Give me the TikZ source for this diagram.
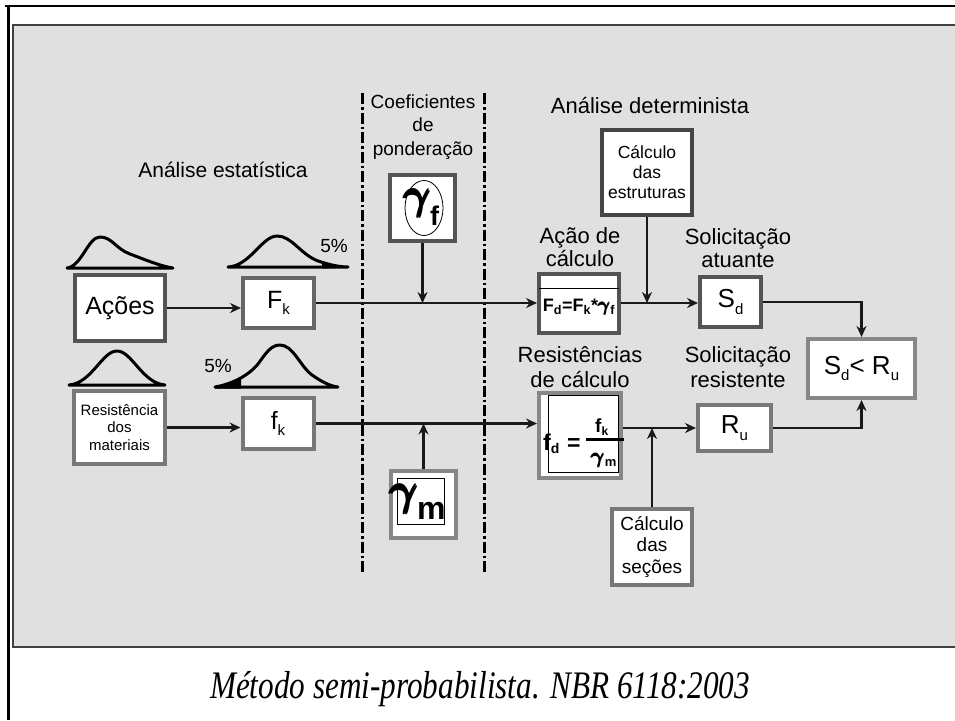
\RequirePackage{fix-cm}
\documentclass[tikz,border=0pt]{standalone}
\usepackage{fontspec}
\usepackage{graphicx}
\usepackage{amsmath}
\setmainfont{Liberation Sans}
\setsansfont{Liberation Sans}
\newfontfamily\capfont{Liberation Serif}
\usetikzlibrary{arrows.meta,shapes.geometric}
\newcommand\myfs[1]{\fontsize{#1}{#1}\selectfont}
\newcommand\lo[2]{\raisebox{-0.25em}{\fontsize{#1}{#1}\selectfont #2}}
\newcommand\bgam{{\boldmath$\pmb{\gamma}$}}
\definecolor{panel}{HTML}{E0E0E0}
\begin{document}
\begin{tikzpicture}[x=1pt,y=-1pt,
 box/.style={draw=#1, fill=white, line width=4pt, inner sep=0pt, align=center},
 conn/.style={line width=2.5pt, draw=black!90, -{Stealth[length=11pt,width=10pt]}},
 lbl/.style={align=center, inner sep=0pt},
 txt/.style={anchor=base west, inner sep=0pt},
 bell/.style={line width=3pt, line join=round},
 sepline/.style={line width=3pt, dash pattern=on 11pt off 3pt on 2.5pt off 3pt}]
\useasboundingbox (0,0) rectangle (955,720);
\fill[white] (0,0) rectangle (955,720);
\draw[line width=2.5pt] (5,6) -- (955,6);
\draw[line width=2.5pt] (8.5,6) -- (8.5,720);
\fill[panel] (13,25) rectangle (955,647);
\draw[draw=black!75, line width=2.5pt] (955,25) -- (13,25) -- (13,647) -- (955,647);

% separators
\draw[sepline] (362,93) -- (362,573);
\draw[sepline] (484,93) -- (484,573);

% labels
\node[lbl, font=\myfs{21}] (lstat) at (223,170) {Análise estatística};
\node[lbl, font=\fontsize{19}{23.5}\selectfont] (lcoef) at (423,127) {Coeficientes\\de\\ponderação};
\node[lbl, font=\myfs{22}] (ldet) at (650,106) {Análise determinista};
\node[lbl, font=\fontsize{22}{23}\selectfont] (lacao) at (580,247) {Ação de\\cálculo};
\node[lbl, font=\fontsize{22}{23}\selectfont] (lsat) at (738,248) {Solicitação\\atuante};
\node[lbl, font=\fontsize{22}{25}\selectfont] (lres) at (580,367) {Resistências\\de cálculo};
\node[lbl, font=\fontsize{22}{25}\selectfont] (lsres) at (738,367) {Solicitação\\resistente};
\node[lbl, font=\myfs{19}] (p1) at (334,246) {5\%};
\node[lbl, font=\myfs{19}] (p2) at (218,366) {5\%};

% bell curves
\draw[bell] (67,268) .. controls (82,266) and (88,237) .. (100,237) .. controls (112,237) and (116,249) .. (130,254) .. controls (146,260) and (160,266) .. (173,268) -- cycle;
\draw[bell] (228,267) .. controls (250,266) and (262,236) .. (277,236) .. controls (292,236) and (300,254) .. (318,261) .. controls (330,265) and (340,267) .. (348,267) -- cycle;
\fill (322,262.5) -- (348,267.5) -- (322,268.5) -- cycle;
\draw[bell] (69,385) .. controls (92,383) and (102,351) .. (117,351) .. controls (132,351) and (142,383) .. (165,385) -- cycle;
\draw[bell] (215,387) .. controls (232,384) and (248,376) .. (258,364) .. controls (266,353) and (271,345) .. (280,345) .. controls (293,345) and (300,366) .. (312,375) .. controls (322,382) and (330,386) .. (338,387) -- cycle;
\fill (215,387) .. controls (228,385) and (236,381) .. (241,377) -- (241,388.5) -- (215,388.5) -- cycle;

% boxes
\node[box=black!67, minimum width=90pt, minimum height=66pt, font=\myfs{25}] (acoes) at (120,308) {Ações};
\node[box=black!60, minimum width=71pt, minimum height=50pt, font=\myfs{25}] (Fk) at (278.5,303) {F\lo{15}{k}};
\node[box=black!53, minimum width=91pt, minimum height=73pt, font=\fontsize{15}{17.5}\selectfont] (res) at (119.5,427.5) {Resistência\\dos\\materiais};
\node[box=black!53, minimum width=71pt, minimum height=51pt, font=\myfs{25}] (fk) at (278,423.5) {f\lo{15}{k}};
\node[box=black!67, minimum width=65pt, minimum height=66pt] (gf) at (422.5,208) {};
\node[box=black!47, minimum width=65pt, minimum height=67pt] (gm) at (423.5,504.5) {};
\node[box=black!73, minimum width=90pt, minimum height=85pt, font=\fontsize{17.5}{20}\selectfont] (ce) at (647,172.5) {Cálculo\\das\\estruturas};
\node[box=black!67, minimum width=80pt, minimum height=59pt] (Fd) at (579,303) {};
\node[box=black!67, minimum width=61pt, minimum height=50pt, font=\myfs{26}] (Sd) at (730.5,302) {S\lo{15}{d}};
\node[box=black!47, minimum width=107pt, minimum height=59pt, font=\myfs{26}] (SR) at (861.5,368.5) {S\lo{15}{d}< R\lo{15}{u}};
\node[box=black!47, minimum width=82pt, minimum height=85pt] (fd) at (580,435.5) {};
\node[box=black!53, minimum width=80pt, minimum height=76pt, font=\fontsize{19}{21.5}\selectfont] (cs) at (652,547) {Cálculo\\das\\seções};
\node[box=black!53, minimum width=73pt, minimum height=46pt, font=\myfs{26}] (Ru) at (734.5,428) {R\lo{15}{u}};

% gamma f
\draw[line width=0.8pt] (424,208) ellipse [x radius=19pt, y radius=27.5pt];
\node[txt, font=\myfs{42}] (gfg) at (404,209) {\bgam};
\node[txt, font=\myfs{27}\bfseries] (gff) at (430,225) {f};
% gamma m
\draw[line width=0.8pt] (397,478) rectangle (444,524);
\node[txt, font=\myfs{44}] (gmg) at (390,505) {\bgam};
\node[txt, font=\myfs{32}\bfseries] (gmm) at (417,519) {m};
% Fd formula
\draw[line width=1pt] (539,288) -- (619,288);
\node[lbl, font=\myfs{18}\bfseries] (Fdt) at (579,307) {F\textsubscript{d}=F\textsubscript{k}*{\myfs{19}\bgam}\textsubscript{f}};
% fd formula
\draw[line width=1pt] (548,395) rectangle (618,472);
\node[txt, font=\myfs{23}\bfseries] (fdl) at (543,450) {f\raisebox{-3pt}{\myfs{14}d}};
\node[txt, font=\myfs{23}\bfseries] (fdeq) at (567,450) {=};
\node[txt, font=\myfs{19}\bfseries] (fdn) at (595,432) {f\raisebox{-3pt}{\myfs{12}k}};
\node[txt, font=\myfs{20}\bfseries] (fdd) at (591,463) {{\myfs{21}\bgam}\raisebox{-3pt}{\myfs{13}m}};
\draw[line width=2.5pt] (586,439.5) -- (624,439.5);

% connectors
\draw[conn] (acoes.east) -- (acoes.east -| Fk.west);
\draw[conn] (Fk.east) -- (Fk.east -| Fd.west);
\draw[conn] (gf.south) -- (gf.south |- Fd.west);
\draw[conn] (Fd.east) -- (Fd.east -| Sd.west);
\draw[conn] (ce.south) -- (ce.south |- Fd.east);
\draw[conn] (Sd.east) -| (SR.north);
\draw[conn] (res.east) -- (res.east -| fk.west);
\draw[conn] (fk.east) -- (fk.east -| fd.west);
\draw[conn] (gm.north) -- (gm.north |- fk.east);
\draw[conn] (fd.east |- Ru.west) -- (Ru.west);
\draw[conn] (cs.north) -- (cs.north |- Ru.west);
\draw[conn] (Ru.east) -| (SR.south);

% caption
\node[anchor=base, inner sep=0pt, font=\capfont\itshape] (cap) at (480,698) {\scalebox{0.8}[1]{\myfs{39}Método semi-probabilista. NBR 6118:2003}};
\end{tikzpicture}
\end{document}
